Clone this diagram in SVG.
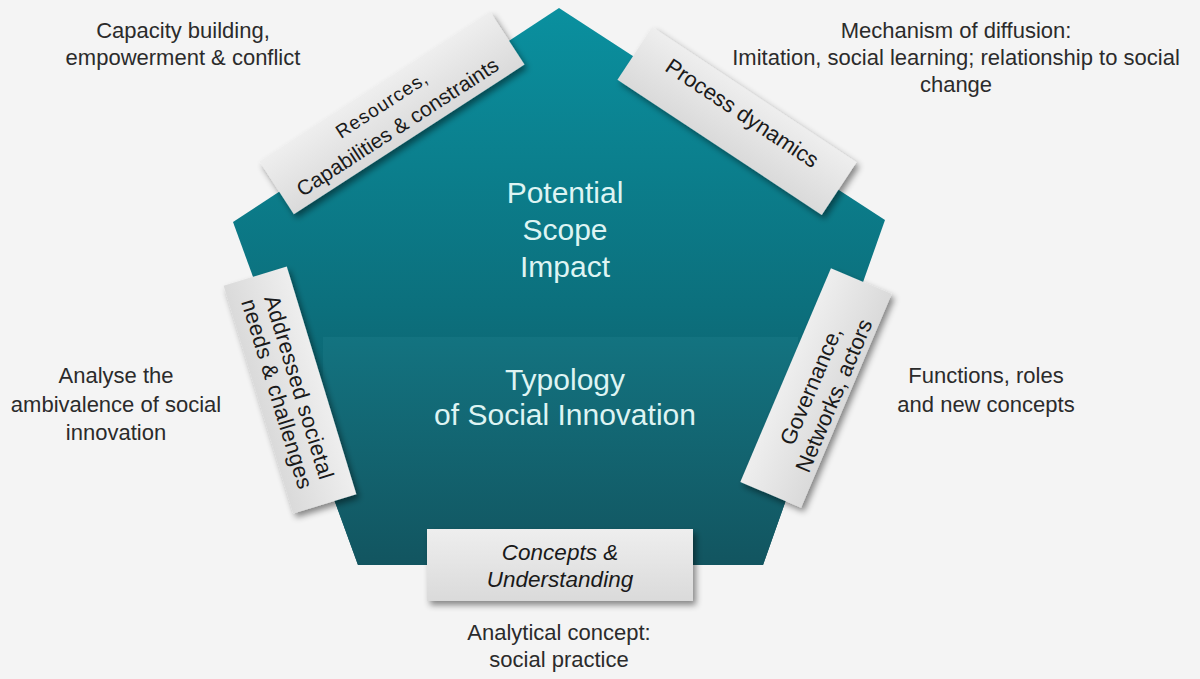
<svg xmlns="http://www.w3.org/2000/svg" width="1200" height="679" viewBox="0 0 1200 679">
<defs>
<linearGradient id="penta" gradientUnits="userSpaceOnUse" x1="0" y1="8" x2="0" y2="565">
<stop offset="0" stop-color="#0a909f"/>
<stop offset="0.55" stop-color="#0c6f7c"/>
<stop offset="1" stop-color="#0f505b"/>
</linearGradient>
<linearGradient id="band" gradientUnits="userSpaceOnUse" x1="0" y1="337" x2="0" y2="565">
<stop offset="0" stop-color="#137380"/>
<stop offset="1" stop-color="#125560"/>
</linearGradient>
<linearGradient id="tabg" x1="0" y1="0" x2="0" y2="1">
<stop offset="0" stop-color="#eeeeee"/>
<stop offset="1" stop-color="#dadada"/>
</linearGradient>
<clipPath id="pclip"><polygon points="559,8 885,220 763,565 358,565 233,222"/></clipPath>
<filter id="sh" x="-20%" y="-20%" width="140%" height="140%">
<feDropShadow dx="3" dy="4" stdDeviation="3" flood-color="#000" flood-opacity="0.45"/>
</filter>
</defs>
<style>
.note{font-family:"Liberation Sans",Arial,sans-serif;font-size:22px;fill:#2b2b2b;text-anchor:middle}
.tab{fill:url(#tabg)}
.tl{font-family:"Liberation Sans",Arial,sans-serif;font-size:22px;fill:#1a1a1a;text-anchor:middle}
.big{font-family:"Liberation Sans",Arial,sans-serif;font-size:30px;fill:#def4f3;text-anchor:middle}
</style>
<rect width="1200" height="679" fill="#f4f4f4"/>

<g id="pentagon">
<polygon points="559,8 885,220 763,565 358,565 233,222" fill="url(#penta)"/>
<rect x="323" y="337" width="475" height="228" fill="url(#band)" clip-path="url(#pclip)"/>
<text class="big" x="565" y="203">Potential</text>
<text class="big" x="565" y="240">Scope</text>
<text class="big" x="565" y="277">Impact</text>
<text class="big" x="565" y="390">Typology</text>
<text class="big" x="565" y="425">of Social Innovation</text>
</g>

<g id="connectors"></g>

<g id="n-resources">
<g filter="url(#sh)"><rect class="tab" transform="translate(392,113) rotate(-33)" x="-137.5" y="-31.5" width="275" height="63"/></g>
<g transform="translate(392,113) rotate(-33)">
<text class="tl" x="-4" y="-6" style="font-size:19px;letter-spacing:1px">Resources,</text>
<text class="tl" x="-3" y="22" style="font-size:21px">Capabilities &amp; constraints</text>
</g>
</g>

<g id="n-process">
<g filter="url(#sh)"><rect class="tab" transform="translate(737,121) rotate(33.5)" x="-122.5" y="-31.5" width="245" height="63"/></g>
<g transform="translate(737,121) rotate(33.5)">
<text class="tl" x="0" y="-2">Process dynamics</text>
</g>
</g>

<g id="n-addressed">
<g filter="url(#sh)"><rect class="tab" transform="translate(290,390) rotate(73)" x="-119" y="-33" width="238" height="66"/></g>
<g transform="translate(290,390) rotate(73)">
<text class="tl" x="0" y="-2" style="letter-spacing:0.3px">Addressed societal</text>
<text class="tl" x="0" y="21" style="letter-spacing:0.3px">needs &amp; challenges</text>
</g>
</g>

<g id="n-governance">
<g filter="url(#sh)"><rect class="tab" transform="translate(816,388) rotate(-67)" x="-116" y="-33" width="232" height="66"/></g>
<g transform="translate(816,388) rotate(-67)">
<text class="tl" x="0" y="2">Governance,</text>
<text class="tl" x="0" y="27">Networks, actors</text>
</g>
</g>

<g id="n-concepts">
<g filter="url(#sh)"><rect class="tab" x="427" y="529" width="266" height="72"/></g>
<text class="tl" x="560" y="560" style="font-style:italic;font-size:22.5px">Concepts &amp;</text>
<text class="tl" x="560" y="587" style="font-style:italic;font-size:22.5px">Understanding</text>
</g>

<g id="n-capacity">
<text class="note" x="183" y="38">Capacity building,</text>
<text class="note" x="183" y="65">empowerment &amp; conflict</text>
</g>

<g id="n-mechanism">
<text class="note" x="956" y="38">Mechanism of diffusion:</text>
<text class="note" x="956" y="65">Imitation, social learning; relationship to social</text>
<text class="note" x="956" y="92">change</text>
</g>

<g id="n-analyse">
<text class="note" x="116" y="383">Analyse the</text>
<text class="note" x="116" y="412">ambivalence of social</text>
<text class="note" x="116" y="440">innovation</text>
</g>

<g id="n-functions">
<text class="note" x="986" y="383">Functions, roles</text>
<text class="note" x="986" y="412">and new concepts</text>
</g>

<g id="n-analytical">
<text class="note" x="559" y="640">Analytical concept:</text>
<text class="note" x="559" y="667">social practice</text>
</g>
</svg>
